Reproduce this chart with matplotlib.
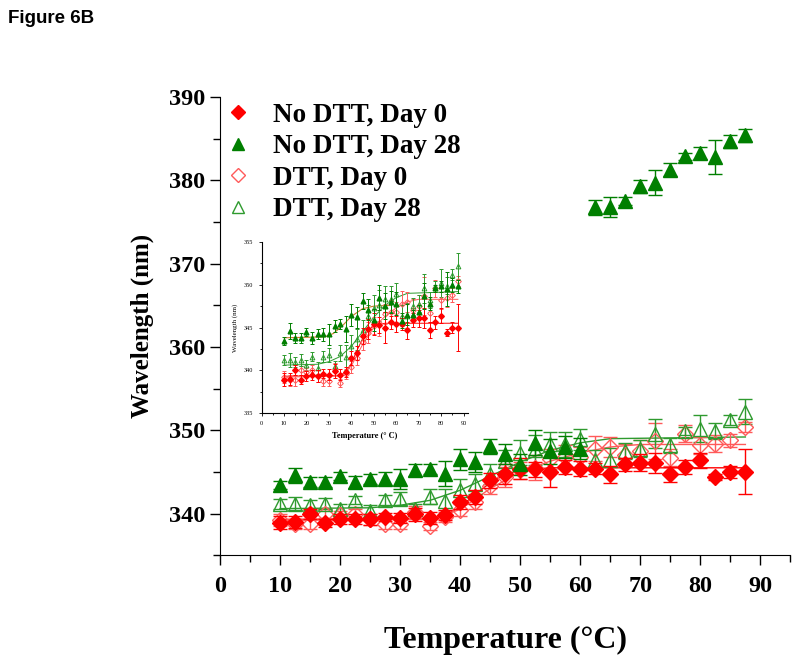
import matplotlib
matplotlib.use('Agg')
import matplotlib.pyplot as plt
import numpy as np

# temperatures (deg C)
temp = [10, 12.5, 15, 17.5, 20, 22.5, 25, 27.5, 30, 32.5, 35, 37.5, 40, 42.5, 45, 47.5,
        50, 52.5, 55, 57.5, 60, 62.5, 65, 67.5, 70, 72.5, 75, 77.5, 80, 82.5, 85, 87.5]

# No DTT, Day 0
nodtt_d0 = [338.9, 339.0, 340.0, 338.9, 339.3, 339.4, 339.3, 339.6, 339.5, 339.9, 339.5, 339.8,
            341.4, 342.0, 344.0, 344.8, 345.4, 345.3, 345.0, 345.6, 345.4, 345.4, 344.7, 345.9,
            346.1, 346.1, 344.7, 345.6, 346.4, 344.4, 345.0, 345.0]
nodtt_d0_err = [0.8, 0.7, 0.6, 0.5, 0.6, 0.6, 0.7, 0.5, 0.6, 0.8, 0.7, 0.6, 0.8, 0.8, 0.9, 1.2,
                1.3, 0.9, 1.8, 0.8, 0.9, 0.7, 1.0, 0.8, 1.0, 1.2, 0.9, 0.8, 0.9, 0.4, 0.7, 2.7]

# No DTT, Day 28
nodtt_d28 = [343.4, 344.6, 343.8, 343.8, 344.5, 343.8, 344.2, 344.2, 344.2, 345.2, 345.4, 344.8,
             346.5, 346.2, 348.1, 347.1, 345.9, 348.5, 347.5, 348.0, 347.8, 376.8, 376.8, 377.5,
             379.3, 379.7, 381.3, 382.9, 383.3, 382.8, 384.7, 385.4]
nodtt_d28_err = [0.5, 0.9, 0.6, 0.6, 0.5, 0.7, 0.6, 0.8, 1.2, 0.7, 0.6, 1.5, 1.3, 1.2, 0.9, 1.2,
                 1.3, 1.5, 1.5, 1.3, 1.3, 0.9, 1.2, 0.5, 0.8, 1.5, 0.8, 0.4, 0.7, 2.0, 0.8, 0.8]
# the inset shows the day-28 high-temperature points on its own scale
nodtt_d28_inset_tail = [345.8, 346.5, 346.5, 346.8, 348.7, 347.8, 349.6, 349.8, 349.5, 350.0, 349.8]

# DTT, Day 0
dtt_d0 = [339.2, 338.8, 338.8, 340.0, 339.8, 340.0, 339.3, 338.7, 338.7, 340.2, 338.5, 339.6,
          340.4, 341.4, 343.3, 344.4, 345.2, 345.5, 346.6, 346.8, 346.8, 347.8, 348.0, 347.0,
          347.5, 348.7, 346.7, 349.6, 348.2, 348.4, 348.8, 350.4]
dtt_d0_err = [0.7, 0.6, 0.6, 0.5, 0.5, 0.6, 0.7, 0.6, 0.5, 0.7, 0.5, 0.6, 0.7, 0.8, 0.9, 1.2,
              1.0, 1.5, 1.2, 1.4, 1.2, 1.5, 1.2, 1.3, 1.3, 2.2, 1.0, 1.0, 1.0, 1.0, 0.8, 0.6]

# DTT, Day 28
dtt_d28 = [341.2, 341.2, 341.0, 341.2, 340.6, 341.6, 340.3, 341.6, 341.8, 340.5, 342.0, 341.5,
           342.8, 343.6, 344.7, 346.3, 347.3, 347.6, 348.3, 348.3, 348.9, 346.4, 346.4, 347.5,
           347.8, 349.6, 348.2, 349.9, 350.2, 349.9, 351.2, 352.2]
dtt_d28_err = [0.6, 0.8, 0.6, 0.7, 0.6, 0.5, 0.7, 0.6, 0.8, 0.6, 0.9, 1.5, 1.3, 1.2, 1.2, 1.3,
               1.5, 1.8, 1.5, 1.5, 1.3, 1.2, 1.5, 1.0, 1.0, 1.7, 0.9, 0.5, 1.6, 1.0, 0.6, 1.5]

# fitted curves
fit_nodtt_d0_t = [10, 35, 37.5, 40, 42.5, 45, 47.5, 50, 55, 87.5]
fit_nodtt_d0_w = [339.3, 339.4, 339.8, 340.8, 342.3, 343.7, 344.7, 345.2, 345.5, 345.5]
fit_dtt_d0_t = [10, 35, 40, 45, 50, 55, 60, 65, 70, 87.5]
fit_dtt_d0_w = [339.2, 339.3, 340.5, 343.0, 345.0, 346.3, 347.3, 348.0, 348.3, 348.3]
fit_dtt_d28_t = [10, 25, 30, 35, 40, 45, 50, 55, 60, 65, 87.5]
fit_dtt_d28_w = [340.6, 340.7, 341.0, 341.6, 342.8, 344.5, 346.2, 347.6, 348.5, 349.0, 349.2]
fit_nodtt_d28_t = [10, 28, 32, 36, 40, 45, 50, 57.5]
fit_nodtt_d28_w = [343.8, 343.9, 344.3, 345.2, 346.3, 347.2, 347.5, 347.6]

labels = ['No DTT, Day 0', 'No DTT, Day 28', 'DTT, Day 0', 'DTT, Day 28']

RED = '#ff0000'
GREEN = '#007f00'
PINK = '#ff5a5a'
LGREEN = '#2e9a2e'
SERIF = 'Liberation Serif'

fig = plt.figure(figsize=(8, 6.65), dpi=100)
ax = fig.add_axes([0.275, 0.165, 0.713, 0.689])


def draw(a, y_d28, ms, cap, lw):
    a.plot(fit_nodtt_d0_t, fit_nodtt_d0_w, color=RED, lw=lw, zorder=1)
    a.plot(fit_dtt_d0_t, fit_dtt_d0_w, color=PINK, lw=lw, zorder=1)
    a.plot(fit_dtt_d28_t, fit_dtt_d28_w, color=LGREEN, lw=lw, zorder=1)
    h1 = a.errorbar(temp, nodtt_d0, yerr=nodtt_d0_err, fmt='D', color=RED, ms=ms * 0.85,
                    capsize=cap, elinewidth=lw, capthick=lw, zorder=3)
    h2 = a.errorbar(temp, y_d28, yerr=nodtt_d28_err, fmt='^', color=GREEN, ms=ms,
                    capsize=cap, elinewidth=lw, capthick=lw, zorder=3)
    h3 = a.errorbar(temp, dtt_d0, yerr=dtt_d0_err, fmt='D', color=PINK, mfc='none', ms=ms * 0.85,
                    mew=lw, capsize=cap, elinewidth=lw, capthick=lw, zorder=2)
    h4 = a.errorbar(temp, dtt_d28, yerr=dtt_d28_err, fmt='^', color=LGREEN, mfc='none', ms=ms,
                    mew=lw, capsize=cap, elinewidth=lw, capthick=lw, zorder=2)
    return [h1, h2, h3, h4]


handles = draw(ax, nodtt_d28, 10, 5, 1.0)

ax.set_xlim(0, 95)
ax.set_ylim(335, 390)
ax.set_xticks(range(0, 91, 10))
ax.set_xticks(range(0, 96, 5), minor=True)
ax.set_yticks(range(340, 391, 10))
ax.set_yticks(range(335, 391, 5), minor=True)
ax.spines['top'].set_visible(False)
ax.spines['right'].set_visible(False)
ax.tick_params(direction='out', length=7, width=1)
ax.tick_params(axis='x', pad=8)
ax.tick_params(which='minor', direction='out', length=5, width=1)
for lab in ax.get_xticklabels() + ax.get_yticklabels():
    lab.set_fontfamily(SERIF)
    lab.set_fontweight('bold')
    lab.set_fontsize(17.5)
ax.set_ylabel('Wavelength (nm)', fontfamily=SERIF, fontweight='bold', fontsize=18)
ax.yaxis.set_label_coords(-0.115, 0.5)
ax.set_xlabel('Temperature (°C)', fontfamily=SERIF, fontweight='bold', fontsize=23)
ax.xaxis.set_label_coords(0.5, -0.155)

leg_handles = [plt.Line2D([], [], marker='D', ls='none', color=RED, ms=7),
               plt.Line2D([], [], marker='^', ls='none', color=GREEN, ms=8),
               plt.Line2D([], [], marker='D', ls='none', color=PINK, mfc='none', ms=7),
               plt.Line2D([], [], marker='^', ls='none', color=LGREEN, mfc='none', ms=8)]
ax.legend(leg_handles, labels, loc='upper left', bbox_to_anchor=(-0.035, 1.041), frameon=False,
          prop={'family': SERIF, 'weight': 'bold', 'size': 19.5}, handletextpad=0.8,
          labelspacing=0.24, handlelength=1.0)

# inset
ins = fig.add_axes([0.327, 0.379, 0.258, 0.257])
y_inset = nodtt_d28[:21] + nodtt_d28_inset_tail
ins.plot(fit_nodtt_d28_t, fit_nodtt_d28_w, color='#c87a2a', lw=0.8, zorder=1)
draw(ins, y_inset, 3.4, 1.5, 0.7)
ins.set_xlim(0, 92)
ins.set_ylim(335, 355)
ins.set_xticks(range(0, 91, 10))
ins.set_xticks(range(0, 91, 5), minor=True)
ins.set_yticks(range(335, 356, 5))
ins.set_yticks(np.arange(335, 355.1, 2.5), minor=True)
ins.spines['top'].set_visible(False)
ins.spines['right'].set_visible(False)
ins.tick_params(direction='out', length=2.5, width=0.6, labelsize=4.5)
ins.tick_params(which='minor', direction='out', length=1.5, width=0.6)
for lab in ins.get_xticklabels() + ins.get_yticklabels():
    lab.set_fontfamily(SERIF)
ins.set_ylabel('Wavelength (nm)', fontfamily=SERIF, fontsize=5)
ins.set_xlabel('Temperature (° C)', fontfamily=SERIF, fontweight='bold', fontsize=6)

fig.text(0.01, 0.972, 'Figure 6B', fontfamily='Liberation Sans', fontweight='bold',
         fontsize=13.5, va='center', ha='left')

fig.savefig('out.png', dpi=100)
